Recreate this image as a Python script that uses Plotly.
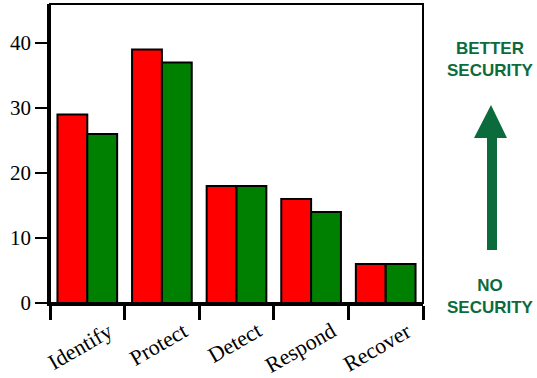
import plotly.graph_objects as go

categories = ["Identify", "Protect", "Detect", "Respond", "Recover"]
red_values = [29, 39, 18, 16, 6]
green_values = [26, 37, 18, 14, 6]
y_tickvals = [0, 10, 20, 30, 40]
y_ticklabels = ["0", "10", "20", "30", "40"]

W, H = 537, 378
ML, MR, MT, MB = 50, 114, 4, 75
PW, PH = W - ML - MR, H - MT - MB


def px_x(p):
    return (p - ML) / PW


def px_y(p):
    return (H - MB - p) / PH


fig = go.Figure()
fig.add_bar(x=categories, y=red_values, marker=dict(color="#ff0000", line=dict(color="black", width=2)), showlegend=False)
fig.add_bar(x=categories, y=green_values, marker=dict(color="#008000", line=dict(color="black", width=2)), showlegend=False)

serif = "Liberation Serif"
arrow_green = "#0b6b3c"

for c in categories:
    fig.add_annotation(x=c, y=0, xref="x", yref="paper", text=c, showarrow=False,
                       textangle=-30, xanchor="right", yanchor="top", xshift=32, yshift=-12,
                       font=dict(family=serif, size=22, color="black"))

fig.add_annotation(x=px_x(491), y=px_y(60), xref="paper", yref="paper", text="<b>BETTER<br>SECURITY</b>",
                   showarrow=False, font=dict(family="Liberation Sans", size=17, color=arrow_green),
                   xanchor="center", yanchor="middle")
fig.add_annotation(x=px_x(491), y=px_y(296), xref="paper", yref="paper", text="<b>NO<br>SECURITY</b>",
                   showarrow=False, font=dict(family="Liberation Sans", size=17, color=arrow_green),
                   xanchor="center", yanchor="middle")

# arrow: shaft + head
pts = [(487, 250), (497, 250), (497, 138), (507, 138), (491, 105), (474, 138), (487, 138)]
path = "M " + " L ".join(f"{px_x(a):.5f},{px_y(b):.5f}" for a, b in pts) + " Z"
fig.add_shape(type="path", path=path, xref="paper", yref="paper", fillcolor=arrow_green, line=dict(width=0))

# thin frame top/right
fig.add_shape(type="rect", x0=0, x1=1, y0=0, y1=1, xref="paper", yref="paper",
              line=dict(color="black", width=2), layer="above")

fig.update_layout(
    width=W, height=H, margin=dict(l=ML, r=MR, t=MT, b=MB, autoexpand=False),
    paper_bgcolor="white", plot_bgcolor="white",
    barmode="group", bargap=0.2, bargroupgap=0,
    xaxis=dict(range=[-0.5, len(categories) - 0.5], showline=True, linecolor="black", linewidth=3,
               ticks="outside", tickson="boundaries",
               ticklen=14, tickwidth=2.5, tickcolor="black", showticklabels=False, showgrid=False),
    yaxis=dict(range=[0, 46], tickvals=y_tickvals, ticktext=y_ticklabels, showline=True, linecolor="black",
               linewidth=2.5, ticks="outside", ticklen=12, tickwidth=2, tickcolor="black", showgrid=False,
               zeroline=False, tickfont=dict(family=serif, size=21, color="black")),
)

fig.write_html("out.html", config={"displayModeBar": False},
               post_script="document.body.style.margin='0';document.body.style.overflow='hidden';")
